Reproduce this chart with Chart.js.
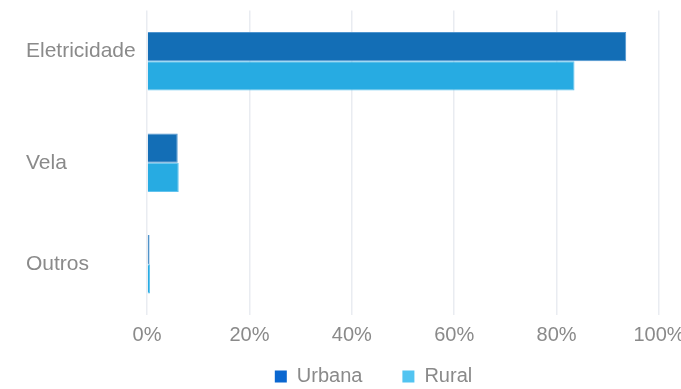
<!DOCTYPE html>
<html>
<head>
<meta charset="utf-8">
<script src="https://cdn.jsdelivr.net/npm/chart.js@4/dist/chart.umd.min.js"></script>
<style>
  html, body { margin: 0; padding: 0; background: #ffffff; overflow: hidden; }
  canvas { display: block; }
</style>
</head>
<body>
<canvas id="c" width="681" height="389" style="width:681px;height:389px"></canvas>
<script>
const categories = ["Eletricidade", "Vela", "Outros"];
const seriesNames = ["Urbana", "Rural"];
const urbana = [93.6, 6.0, 0.5];
const rural = [83.5, 6.2, 0.6];
const xTicks = [0, 20, 40, 60, 80, 100];

const barColors = ["#136eb6", "#27abe2"];
const barBorders = ["#4f95cf", "#62c3ee"];
const legendColors = ["#0a67d0", "#52c4f1"];
const textColor = "#8a8a8a";
const fontFamily = "'Liberation Sans', Arial, Helvetica, sans-serif";

const legendTweak = {
  id: 'legendTweak',
  beforeLayout(chart) {
    const lg = chart.legend;
    if (lg && !lg._patched) {
      const orig = lg.fit.bind(lg);
      lg.fit = function () { orig(); this.height = 34; };
      lg._patched = true;
    }
  },
  afterLayout(chart) {
    const lg = chart.legend;
    if (!lg) return;
    const dx = 20;
    lg.left += dx; lg.right += dx;
    const pad = lg.options.labels.padding;
    lg.top = 366.5 - pad;
    lg.bottom = chart.height;
  }
};

new Chart(document.getElementById('c'), {
  type: 'bar',
  data: {
    labels: categories,
    datasets: [
      { label: seriesNames[0], data: urbana, backgroundColor: barColors[0], borderColor: barBorders[0], borderWidth: 1 },
      { label: seriesNames[1], data: rural, backgroundColor: barColors[1], borderColor: barBorders[1], borderWidth: 1 }
    ]
  },
  options: {
    indexAxis: 'y',
    responsive: false,
    animation: false,
    layout: { padding: { top: 10, left: 26, right: 0, bottom: 0 } },
    datasets: { bar: { categoryPercentage: 0.576, barPercentage: 1.0 } },
    scales: {
      x: {
        min: 0, max: 100,
        afterBuildTicks(scale) { scale.ticks = xTicks.map(v => ({ value: v })); },
        afterFit(scale) { scale.paddingRight = 22; },
        grid: { color: '#e9ecf1', lineWidth: 1.5, drawTicks: false },
        border: { display: false },
        ticks: {
          padding: 0,
          color: textColor,
          font: { family: fontFamily, size: 20, lineHeight: 2.0 },
          callback: v => v + '%'
        }
      },
      y: {
        grid: { display: false },
        border: { display: false },
        afterFit(scale) { scale.width = 121; },
        ticks: {
          padding: 0,
          crossAlign: 'far',
          color: textColor,
          font: { family: fontFamily, size: 21, lineHeight: 1.0 },
          callback: (v, i) => (i === 0 ? [categories[i], ''] : categories[i])
        }
      }
    },
    plugins: {
      tooltip: { enabled: false },
      legend: {
        position: 'bottom',
        labels: {
          boxWidth: 12,
          boxHeight: 12,
          padding: 40,
          color: textColor,
          font: { family: fontFamily, size: 20 },
          generateLabels(chart) {
            return chart.data.datasets.map((ds, i) => ({
              text: ds.label,
              fillStyle: legendColors[i],
              strokeStyle: legendColors[i],
              lineWidth: 0,
              fontColor: textColor,
              hidden: !chart.isDatasetVisible(i),
              datasetIndex: i
            }));
          }
        }
      }
    }
  },
  plugins: [legendTweak]
});
</script>
</body>
</html>
